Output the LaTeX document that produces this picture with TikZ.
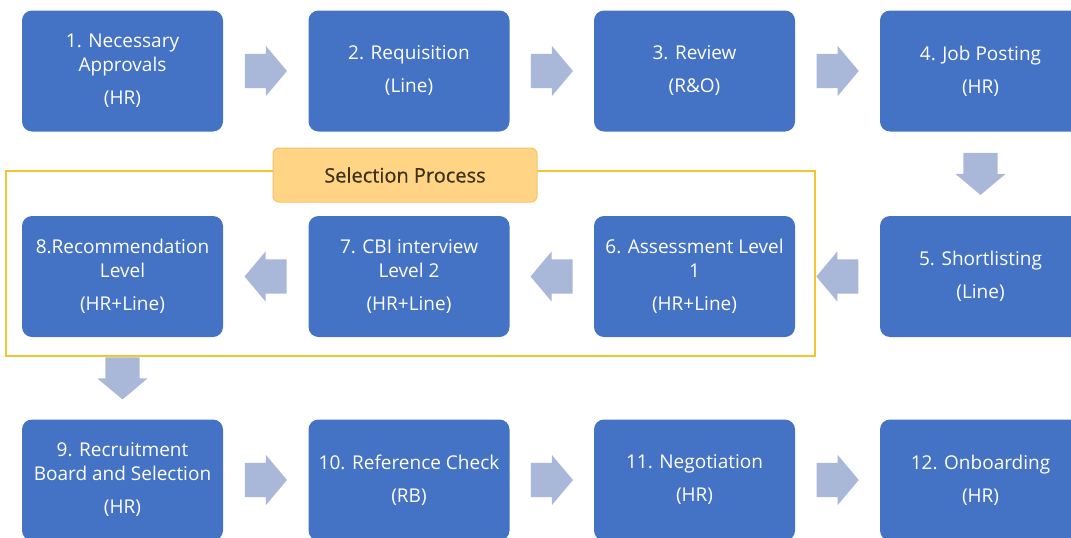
\documentclass[tikz,border=0pt]{standalone}
\usepackage{fontspec}
\setmainfont{Open Sans}
\newfontfamily\tagfont[FakeBold=0.6]{Open Sans}
\usetikzlibrary{calc,shapes.arrows}
\definecolor{boxblue}{HTML}{4472C4}
\definecolor{arrowgrey}{HTML}{A9B7D9}
\definecolor{framegold}{HTML}{F2C531}
\definecolor{tagfill}{HTML}{FFD585}
\definecolor{tagedge}{HTML}{F3C46C}
\definecolor{tagtext}{HTML}{3E3219}

\begin{document}
\begin{tikzpicture}[x=1pt, y=-1pt,
    stage/.style={fill=boxblue, rounded corners=10pt, minimum width=201pt,
        minimum height=121pt, text=white, align=center, inner sep=0pt,
        font=\fontsize{19}{24}\selectfont},
    flow/.style={single arrow, fill=arrowgrey, minimum height=42pt,
        minimum width=50pt, single arrow head extend=8pt,
        single arrow tip angle=100, inner xsep=0pt, inner ysep=17pt,
        anchor=tail},
    tag/.style={fill=tagfill, draw=tagedge, line width=1pt, rounded corners=6pt,
        minimum width=264pt, minimum height=54pt, text=tagtext,
        font=\tagfont\fontsize{20}{24}\selectfont}]
    \useasboundingbox (0,0) rectangle (1071,538);
    \clip (0,0) rectangle (1071,538);

    % selection frame
    \draw[framegold, line width=2.5pt] (6,171) rectangle (815,356);
    \node[tag] at (405,175) (sel) {Selection Process};

    % row 1
    \node[stage] at (122.5,71)  (s1) {1. Necessary\\Approvals\\[9pt](HR)};
    \node[stage] at (409,71)    (s2) {2. Requisition\\[9pt](Line)};
    \node[stage] at (694.5,71)  (s3) {3. Review\\[9pt](R\&O)};
    \node[stage] at (980.5,71)  (s4) {4. Job Posting\\[9pt](HR)};
    % row 2
    \node[stage] at (980.5,276.5) (s5) {5. Shortlisting\\[9pt](Line)};
    \node[stage] at (694.5,276.5) (s6) {6. Assessment Level\\1\\[9pt](HR+Line)};
    \node[stage] at (409,276.5)   (s7) {7. CBI interview\\Level 2\\[9pt](HR+Line)};
    \node[stage] at (122.5,276.5) (s8) {8.Recommendation\\Level\\[9pt](HR+Line)};
    % row 3
    \node[stage] at (122.5,480) (s9)  {9. Recruitment\\Board and Selection\\[9pt](HR)};
    \node[stage] at (409,480)   (s10) {10. Reference Check\\[9pt](RB)};
    \node[stage] at (694.5,480) (s11) {11. Negotiation\\[9pt](HR)};
    \node[stage] at (980.5,480) (s12) {12. Onboarding\\[9pt](HR)};

    % block arrows, centred in the gap between two stages
    \foreach \a/\b/\r in {s1/s2/0, s2/s3/0, s3/s4/0, s4/s5/-90, s5/s6/180,
                          s6/s7/180, s7/s8/180, s8/s9/-90, s9/s10/0,
                          s10/s11/0, s11/s12/0}
        \node[flow, rotate=\r] at ($(\a)!0.5!(\b)!21pt!(\a)$) {};
\end{tikzpicture}
\end{document}
